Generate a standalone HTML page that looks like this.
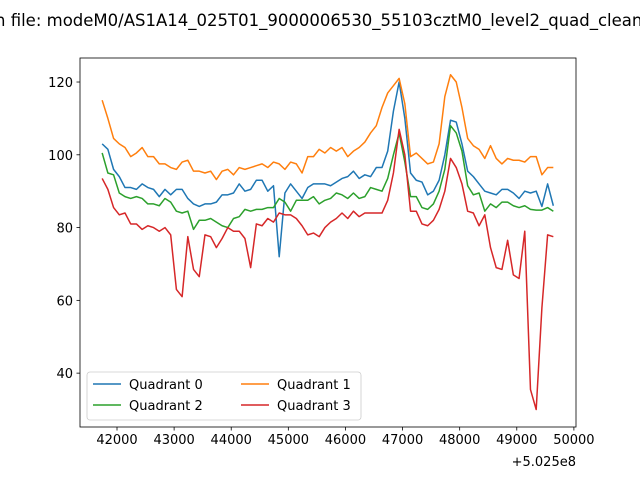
<!DOCTYPE html>
<html><head><meta charset="utf-8"><style>
body{margin:0;background:#fff;}
svg{display:block;font-family:"DejaVu Sans","Liberation Sans",sans-serif;}
</style></head><body>
<svg id="chart" width="640" height="480">
<text x="-5" y="26" font-size="16.5">n file: modeM0/AS1A14_025T01_9000006530_55103cztM0_level2_quad_clean.evt</text>
<g id="plot"></g>
</svg>
<script>
const xStart = 41740;
const xStep = 100;
const q0 = [103,101.5,96,94,91,91,90.5,92,91,90.5,88.5,90.5,89,90.5,90.5,88,86.5,85.8,86.5,86.5,87,89,89,89.5,92,90,90.5,93,93,90,91.5,72,89.5,92,90,88,91,92,92,92,91.5,92.5,93.5,94,95.5,93.5,94.5,94,96.5,96.5,101,112,120,110,95,93,92.5,89,90,93,100,109.5,109,103,95.5,94,92,90,89.5,89,90.5,90.5,89.5,88,90,89.5,90,85.8,92,86];
const q1 = [115,110,104.5,103,102,99.5,100.5,102,99.5,99.5,97.5,97.5,96.5,96,98,98.5,95.5,95.5,95,95.5,93.2,95.5,96,94.5,96.5,96,96.5,97,97.5,96.5,98,97.5,96,98,97.5,95,99.5,99.5,101.5,100.5,102,101,102,99.5,101,102,103.5,106,108,113,117,119,121,114,99.5,100.5,99,97.5,98,103,116,122,120,113,104.5,102.5,101.5,99,102.5,99,97.5,99,98.5,98.5,98,99.5,99.5,94.5,96.5,96.5];
const q2 = [100.5,95,94.5,89.5,88.5,88,88.5,88,86.5,86.5,86,88,87,84.5,84,84.5,79.5,82,82,82.5,81.5,80.5,80,82.5,83,85,84.5,85,85,85.5,85.5,88,87,84.5,87.5,87.5,87.5,88.5,86.5,87.5,88,89.5,89,88,89.5,88,88.5,91,90.5,90,93.5,100,106,98,88.5,88.5,85.5,85,86.5,90,96,108,106,101,91.5,89,89.5,84.5,86.5,85.5,87,87,86,85.5,86,85,84.8,84.8,85.5,84.5];
const q3 = [93.5,90.5,85.5,83.5,84,81,81,79.5,80.5,80,79,80,78,63,61,77.5,68.5,66.5,78,77.5,74.5,77,80,79,79,77,69,81,80.5,82.5,81.5,84,83.5,83.5,82.5,80.5,78,78.5,77.5,80,81.5,82.5,84,82.5,84.5,83,84,84,84,84,87.5,95,107,100,84.5,84.5,81,80.5,82,85,90,99,96.5,92,84.5,84,80.5,83.5,74.5,69,68.5,76.5,67,66,79,35.5,30,58,78,77.5];
const seriesNames = ["Quadrant 0","Quadrant 1","Quadrant 2","Quadrant 3"];
const xTicks = [42000,43000,44000,45000,46000,47000,48000,49000,50000];
const yTicks = [40,60,80,100,120];

const L=80,R=576,T=58,B=427;
const xMin=41352,xMax=50037,yMin=25.2,yMax=126.6;
const sx=v=>L+(v-xMin)/(xMax-xMin)*(R-L);
const sy=v=>B-(v-yMin)/(yMax-yMin)*(B-T);
const NS="http://www.w3.org/2000/svg";
const g=document.getElementById('plot');
function mk(tag,attrs,parent){const e=document.createElementNS(NS,tag);for(const k in attrs)e.setAttribute(k,attrs[k]);(parent||g).appendChild(e);return e;}
const colors=["#1f77b4","#ff7f0e","#2ca02c","#d62728"];
[q0,q1,q2,q3].forEach((s,k)=>{
  const d=s.map((v,i)=>(i?'L':'M')+sx(xStart+xStep*i).toFixed(2)+','+sy(v).toFixed(2)).join('');
  const p=mk('path',{d:d,fill:'none',stroke:colors[k],'stroke-width':1.5,'stroke-linejoin':'round'});
  
  
});
const frame=mk('rect',{x:L,y:T,width:R-L,height:B-T,fill:'none',stroke:'#000','stroke-width':0.8});


xTicks.forEach(t=>{
  const x=sx(t);
  mk('line',{x1:x,x2:x,y1:B,y2:B+3.5,stroke:'#000','stroke-width':0.8});
  const tx=mk('text',{x:x,y:B+17,'font-size':13,'text-anchor':'middle'});
  tx.textContent=t;
  
  
});
yTicks.forEach(t=>{
  const y=sy(t);
  mk('line',{x1:L-3.5,x2:L,y1:y,y2:y,stroke:'#000','stroke-width':0.8});
  const tx=mk('text',{x:L-7,y:y+5,'font-size':13,'text-anchor':'end'});
  tx.textContent=t;
  
  
});
const off=mk('text',{x:576,y:466,'font-size':13,'text-anchor':'end'});
off.textContent='+5.025e8';


const lg=mk('g',{});


mk('rect',{x:87,y:372,width:274,height:48,rx:3,fill:'#fff','fill-opacity':0.8,stroke:'#ccc','stroke-width':0.8},lg);
seriesNames.forEach((n,k)=>{
  const cx=k%2?241:93, cy=k<2?384:405;
  const ln=mk('line',{x1:cx,x2:cx+28,y1:cy,y2:cy,stroke:colors[k],'stroke-width':1.5},lg);
  
  
  const tx=mk('text',{x:cx+36,y:cy+5,'font-size':13},lg);
  tx.textContent=n;
  
  
});
</script>
</body></html>
